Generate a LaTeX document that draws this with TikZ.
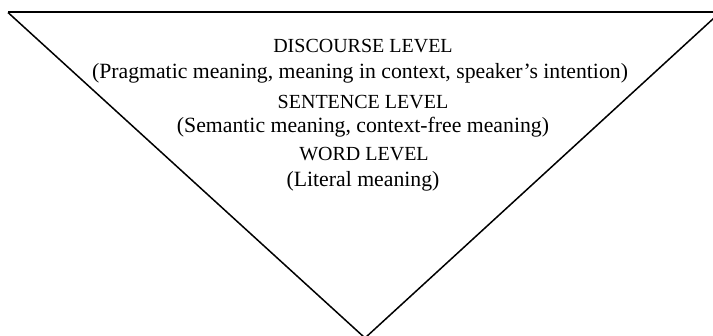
\documentclass[tikz,border=0pt]{standalone}
\usepackage{fontspec}
\setmainfont{Liberation Serif}
\begin{document}
\begin{tikzpicture}[x=1pt,y=-1pt,
  lbl/.style={font=\fontsize{20}{24}\selectfont, inner sep=0pt, anchor=base},
  sub/.style={font=\fontsize{21.75}{26}\selectfont, inner sep=0pt, anchor=base},
  edge/.style={line width=1.5pt, line join=miter}]
\useasboundingbox (0,0) rectangle (713,336);
\clip (0,0) rectangle (713,336);
\coordinate (tl) at (8,12.5);
\coordinate (tr) at (713,12.5);
\coordinate (apex) at (365,338);
\coordinate (rt) at (720,12.5);
\draw[line width=2pt] (tl) -- (tr);
\draw[edge] (tl) -- (apex) -- (rt);
\node[lbl] (d1) at (363,52.7) {DISCOURSE LEVEL};
\node[sub] (d2) at (360,78.3) {(Pragmatic meaning, meaning in context, speaker’s intention)};
\node[lbl] (s1) at (363,108.3) {SENTENCE LEVEL};
\node[sub] (s2) at (363,132.7) {(Semantic meaning, context-free meaning)};
\node[lbl] (w1) at (364,161) {WORD LEVEL};
\node[sub] (w2) at (363,186.7) {(Literal meaning)};
\end{tikzpicture}
\end{document}
